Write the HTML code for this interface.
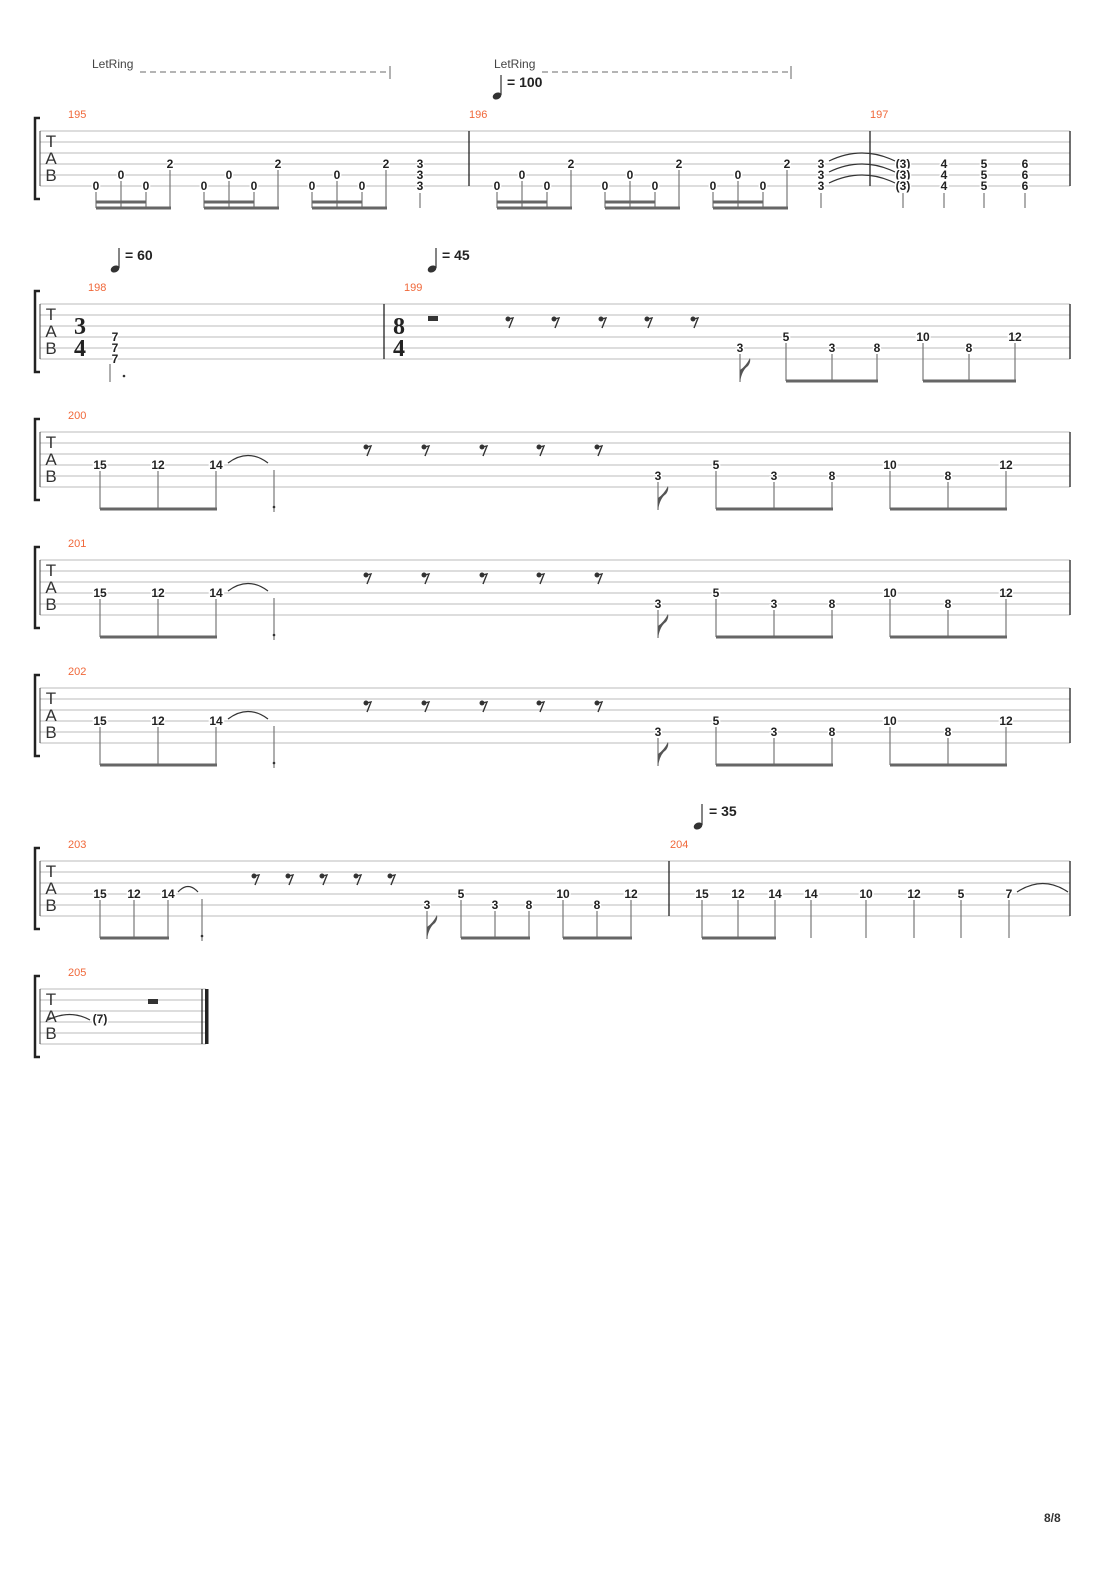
<!DOCTYPE html>
<html><head><meta charset="utf-8"><style>
html,body{margin:0;padding:0;background:#fff}
svg{display:block}
.n{font:bold 12px "Liberation Sans",sans-serif;fill:#222;text-anchor:middle;stroke:#fff;stroke-width:3px;paint-order:stroke}
.m{font:11px "Liberation Sans",sans-serif;fill:#f0683a}
.tab{font:17px "Liberation Sans",sans-serif;fill:#333;text-anchor:middle}
.ts{font:bold 24px "Liberation Serif",serif;fill:#222;text-anchor:middle}
.lr{font:12px "Liberation Sans",sans-serif;fill:#444}
.tp{font:bold 14px "Liberation Sans",sans-serif;fill:#222}
.sl{stroke:#bbb;stroke-width:1}
.st{stroke:#777;stroke-width:1.2}
.bm{stroke:#666;stroke-width:3}
.bar{stroke:#222;stroke-width:1.3}
</style></head><body>
<svg width="1110" height="1570" viewBox="0 0 1110 1570" xmlns="http://www.w3.org/2000/svg">
<defs>
<g id="none"></g>
</defs>

<!-- LetRing -->
<text class="lr" x="92" y="68">LetRing</text>
<line x1="140" y1="72" x2="388" y2="72" stroke="#888" stroke-width="1.2" stroke-dasharray="6,4"/>
<line x1="390" y1="66" x2="390" y2="79" stroke="#666"/>
<text class="lr" x="494" y="68">LetRing</text>
<line x1="542" y1="72" x2="789" y2="72" stroke="#888" stroke-width="1.2" stroke-dasharray="6,4"/>
<line x1="791" y1="66" x2="791" y2="79" stroke="#666"/>
<!-- tempo 100 -->
<ellipse cx="497" cy="96" rx="4.5" ry="3.3" transform="rotate(-25 497 96)" fill="#333"/>
<line x1="501" y1="95" x2="501" y2="75" stroke="#333" stroke-width="1.2"/>
<text class="tp" x="507" y="87">= 100</text>

<!-- ===== System 1 T=131 ===== -->
<g transform="translate(0,131)">
<path d="M40 -13 L35 -13 L35 68 L40 68" fill="none" stroke="#222" stroke-width="2.5"/>
<g class="sl"><line x1="40" y1="0" x2="1070" y2="0"/><line x1="40" y1="11" x2="1070" y2="11"/><line x1="40" y1="22" x2="1070" y2="22"/><line x1="40" y1="33" x2="1070" y2="33"/><line x1="40" y1="44" x2="1070" y2="44"/><line x1="40" y1="55" x2="1070" y2="55"/></g>
<line x1="40" y1="0" x2="40" y2="55" stroke="#444"/>
<text class="tab" x="51" y="16">T</text><text class="tab" x="51" y="33">A</text><text class="tab" x="51" y="50">B</text>
<text class="m" x="68" y="-13">195</text><text class="m" x="469" y="-13">196</text><text class="m" x="870" y="-13">197</text>
<line class="bar" x1="469" y1="0" x2="469" y2="55"/><line class="bar" x1="870" y1="0" x2="870" y2="55"/><line class="bar" x1="1070" y1="0" x2="1070" y2="55"/>
<g class="st">
<line x1="96" y1="61" x2="96" y2="77"/><line x1="121" y1="50" x2="121" y2="77"/><line x1="146" y1="61" x2="146" y2="77"/><line x1="170" y1="39" x2="170" y2="77"/>
<line x1="204" y1="61" x2="204" y2="77"/><line x1="229" y1="50" x2="229" y2="77"/><line x1="254" y1="61" x2="254" y2="77"/><line x1="278" y1="39" x2="278" y2="77"/>
<line x1="312" y1="61" x2="312" y2="77"/><line x1="337" y1="50" x2="337" y2="77"/><line x1="362" y1="61" x2="362" y2="77"/><line x1="386" y1="39" x2="386" y2="77"/>
<line x1="420" y1="62" x2="420" y2="77"/>
<line x1="497" y1="61" x2="497" y2="77"/><line x1="522" y1="50" x2="522" y2="77"/><line x1="547" y1="61" x2="547" y2="77"/><line x1="571" y1="39" x2="571" y2="77"/>
<line x1="605" y1="61" x2="605" y2="77"/><line x1="630" y1="50" x2="630" y2="77"/><line x1="655" y1="61" x2="655" y2="77"/><line x1="679" y1="39" x2="679" y2="77"/>
<line x1="713" y1="61" x2="713" y2="77"/><line x1="738" y1="50" x2="738" y2="77"/><line x1="763" y1="61" x2="763" y2="77"/><line x1="787" y1="39" x2="787" y2="77"/>
<line x1="821" y1="62" x2="821" y2="77"/><line x1="903" y1="62" x2="903" y2="77"/><line x1="944" y1="62" x2="944" y2="77"/><line x1="984" y1="62" x2="984" y2="77"/><line x1="1025" y1="62" x2="1025" y2="77"/>
</g>
<g class="bm">
<line x1="96" y1="77" x2="171" y2="77"/><line x1="96" y1="71" x2="146" y2="71"/>
<line x1="204" y1="77" x2="279" y2="77"/><line x1="204" y1="71" x2="254" y2="71"/>
<line x1="312" y1="77" x2="387" y2="77"/><line x1="312" y1="71" x2="362" y2="71"/>
<line x1="497" y1="77" x2="572" y2="77"/><line x1="497" y1="71" x2="547" y2="71"/>
<line x1="605" y1="77" x2="680" y2="77"/><line x1="605" y1="71" x2="655" y2="71"/>
<line x1="713" y1="77" x2="788" y2="77"/><line x1="713" y1="71" x2="763" y2="71"/>
</g>
<g fill="none" stroke="#333" stroke-width="1.2">
<path d="M829 30 Q862 14 895 30"/><path d="M829 41 Q862 25 895 41"/><path d="M829 52 Q862 36 895 52"/>
</g>
<text class="n" x="96" y="59">0</text><text class="n" x="121" y="48">0</text><text class="n" x="146" y="59">0</text><text class="n" x="170" y="37">2</text>
<text class="n" x="204" y="59">0</text><text class="n" x="229" y="48">0</text><text class="n" x="254" y="59">0</text><text class="n" x="278" y="37">2</text>
<text class="n" x="312" y="59">0</text><text class="n" x="337" y="48">0</text><text class="n" x="362" y="59">0</text><text class="n" x="386" y="37">2</text>
<text class="n" x="420" y="37">3</text><text class="n" x="420" y="48">3</text><text class="n" x="420" y="59">3</text>
<text class="n" x="497" y="59">0</text><text class="n" x="522" y="48">0</text><text class="n" x="547" y="59">0</text><text class="n" x="571" y="37">2</text>
<text class="n" x="605" y="59">0</text><text class="n" x="630" y="48">0</text><text class="n" x="655" y="59">0</text><text class="n" x="679" y="37">2</text>
<text class="n" x="713" y="59">0</text><text class="n" x="738" y="48">0</text><text class="n" x="763" y="59">0</text><text class="n" x="787" y="37">2</text>
<text class="n" x="821" y="37">3</text><text class="n" x="821" y="48">3</text><text class="n" x="821" y="59">3</text>
<text class="n" x="903" y="37">(3)</text><text class="n" x="903" y="48">(3)</text><text class="n" x="903" y="59">(3)</text>
<text class="n" x="944" y="37">4</text><text class="n" x="944" y="48">4</text><text class="n" x="944" y="59">4</text>
<text class="n" x="984" y="37">5</text><text class="n" x="984" y="48">5</text><text class="n" x="984" y="59">5</text>
<text class="n" x="1025" y="37">6</text><text class="n" x="1025" y="48">6</text><text class="n" x="1025" y="59">6</text>
</g>

<!-- ===== System 2 T=304 ===== -->
<g transform="translate(0,304)">
<path d="M40 -13 L35 -13 L35 68 L40 68" fill="none" stroke="#222" stroke-width="2.5"/>
<g class="sl"><line x1="40" y1="0" x2="1070" y2="0"/><line x1="40" y1="11" x2="1070" y2="11"/><line x1="40" y1="22" x2="1070" y2="22"/><line x1="40" y1="33" x2="1070" y2="33"/><line x1="40" y1="44" x2="1070" y2="44"/><line x1="40" y1="55" x2="1070" y2="55"/></g>
<line x1="40" y1="0" x2="40" y2="55" stroke="#444"/>
<text class="tab" x="51" y="16">T</text><text class="tab" x="51" y="33">A</text><text class="tab" x="51" y="50">B</text>
<text class="m" x="88" y="-13">198</text><text class="m" x="404" y="-13">199</text>
<text class="ts" x="80" y="30">3</text><text class="ts" x="80" y="52">4</text>
<text class="ts" x="399" y="30">8</text><text class="ts" x="399" y="52">4</text>
<line class="bar" x1="384" y1="0" x2="384" y2="55"/><line class="bar" x1="1070" y1="0" x2="1070" y2="55"/>
<g class="st"><line x1="110" y1="60" x2="110" y2="78"/></g>
<circle cx="124" cy="72" r="1.3" fill="#333"/>
<text class="n" x="115" y="37">7</text><text class="n" x="115" y="48">7</text><text class="n" x="115" y="59">7</text>
<rect x="428" y="12" width="10" height="5" fill="#333"/>
<g fill="#333" stroke="#333" stroke-width="1.4">
<circle cx="508" cy="15" r="1.8"/><path d="M508 15 L513 14 L509 24" fill="none"/>
<circle cx="554" cy="15" r="1.8"/><path d="M554 15 L559 14 L555 24" fill="none"/>
<circle cx="601" cy="15" r="1.8"/><path d="M601 15 L606 14 L602 24" fill="none"/>
<circle cx="647" cy="15" r="1.8"/><path d="M647 15 L652 14 L648 24" fill="none"/>
<circle cx="693" cy="15" r="1.8"/><path d="M693 15 L698 14 L694 24" fill="none"/>
</g>
<g class="st">
<line x1="740" y1="50" x2="740" y2="78"/>
<line x1="786" y1="39" x2="786" y2="77"/><line x1="832" y1="50" x2="832" y2="77"/><line x1="877" y1="50" x2="877" y2="77"/>
<line x1="923" y1="39" x2="923" y2="77"/><line x1="969" y1="50" x2="969" y2="77"/><line x1="1015" y1="39" x2="1015" y2="77"/>
</g>
<path d="M740 78 Q742 66 748 62 Q751 58 750 54 Q746 62 740 66" fill="#555"/>
<g class="bm"><line x1="786" y1="77" x2="878" y2="77"/><line x1="923" y1="77" x2="1016" y2="77"/></g>
<text class="n" x="740" y="48">3</text><text class="n" x="786" y="37">5</text><text class="n" x="832" y="48">3</text><text class="n" x="877" y="48">8</text>
<text class="n" x="923" y="37">10</text><text class="n" x="969" y="48">8</text><text class="n" x="1015" y="37">12</text>
</g>
<!-- tempos sys2 -->
<ellipse cx="115" cy="269" rx="4.5" ry="3.3" transform="rotate(-25 115 269)" fill="#333"/>
<line x1="119" y1="268" x2="119" y2="248" stroke="#333" stroke-width="1.2"/>
<text class="tp" x="125" y="260">= 60</text>
<ellipse cx="432" cy="269" rx="4.5" ry="3.3" transform="rotate(-25 432 269)" fill="#333"/>
<line x1="436" y1="268" x2="436" y2="248" stroke="#333" stroke-width="1.2"/>
<text class="tp" x="442" y="260">= 45</text>

<!-- ===== Systems 3-5 ===== -->
<g transform="translate(0,432)">
<path d="M40 -13 L35 -13 L35 68 L40 68" fill="none" stroke="#222" stroke-width="2.5"/>
<g class="sl"><line x1="40" y1="0" x2="1070" y2="0"/><line x1="40" y1="11" x2="1070" y2="11"/><line x1="40" y1="22" x2="1070" y2="22"/><line x1="40" y1="33" x2="1070" y2="33"/><line x1="40" y1="44" x2="1070" y2="44"/><line x1="40" y1="55" x2="1070" y2="55"/></g>
<line x1="40" y1="0" x2="40" y2="55" stroke="#444"/>
<text class="tab" x="51" y="16">T</text><text class="tab" x="51" y="33">A</text><text class="tab" x="51" y="50">B</text>
<text class="m" x="68" y="-13">200</text>
<line class="bar" x1="1070" y1="0" x2="1070" y2="55"/>
<path d="M228 31 Q248 16 268 31" fill="none" stroke="#333" stroke-width="1.2"/>
<g class="st"><line x1="100" y1="39" x2="100" y2="77"/><line x1="158" y1="39" x2="158" y2="77"/><line x1="216" y1="39" x2="216" y2="77"/><line x1="274" y1="38" x2="274" y2="80"/>
<line x1="658" y1="50" x2="658" y2="78"/>
<line x1="716" y1="39" x2="716" y2="77"/><line x1="774" y1="50" x2="774" y2="77"/><line x1="832" y1="50" x2="832" y2="77"/>
<line x1="890" y1="39" x2="890" y2="77"/><line x1="948" y1="50" x2="948" y2="77"/><line x1="1006" y1="39" x2="1006" y2="77"/></g>
<circle cx="274" cy="75" r="1.3" fill="#333"/>
<path d="M658 78 Q660 66 666 62 Q669 58 668 54 Q664 62 658 66" fill="#555"/>
<g class="bm"><line x1="100" y1="77" x2="217" y2="77"/><line x1="716" y1="77" x2="833" y2="77"/><line x1="890" y1="77" x2="1007" y2="77"/></g>
<g fill="#333" stroke="#333" stroke-width="1.4">
<circle cx="366" cy="15" r="1.8"/><path d="M366 15 L371 14 L367 24" fill="none"/>
<circle cx="424" cy="15" r="1.8"/><path d="M424 15 L429 14 L425 24" fill="none"/>
<circle cx="482" cy="15" r="1.8"/><path d="M482 15 L487 14 L483 24" fill="none"/>
<circle cx="539" cy="15" r="1.8"/><path d="M539 15 L544 14 L540 24" fill="none"/>
<circle cx="597" cy="15" r="1.8"/><path d="M597 15 L602 14 L598 24" fill="none"/>
</g>
<text class="n" x="100" y="37">15</text><text class="n" x="158" y="37">12</text><text class="n" x="216" y="37">14</text>
<text class="n" x="658" y="48">3</text><text class="n" x="716" y="37">5</text><text class="n" x="774" y="48">3</text><text class="n" x="832" y="48">8</text>
<text class="n" x="890" y="37">10</text><text class="n" x="948" y="48">8</text><text class="n" x="1006" y="37">12</text>
</g>
<g transform="translate(0,560)">
<path d="M40 -13 L35 -13 L35 68 L40 68" fill="none" stroke="#222" stroke-width="2.5"/>
<g class="sl"><line x1="40" y1="0" x2="1070" y2="0"/><line x1="40" y1="11" x2="1070" y2="11"/><line x1="40" y1="22" x2="1070" y2="22"/><line x1="40" y1="33" x2="1070" y2="33"/><line x1="40" y1="44" x2="1070" y2="44"/><line x1="40" y1="55" x2="1070" y2="55"/></g>
<line x1="40" y1="0" x2="40" y2="55" stroke="#444"/>
<text class="tab" x="51" y="16">T</text><text class="tab" x="51" y="33">A</text><text class="tab" x="51" y="50">B</text>
<text class="m" x="68" y="-13">201</text>
<line class="bar" x1="1070" y1="0" x2="1070" y2="55"/>
<path d="M228 31 Q248 16 268 31" fill="none" stroke="#333" stroke-width="1.2"/>
<g class="st"><line x1="100" y1="39" x2="100" y2="77"/><line x1="158" y1="39" x2="158" y2="77"/><line x1="216" y1="39" x2="216" y2="77"/><line x1="274" y1="38" x2="274" y2="80"/>
<line x1="658" y1="50" x2="658" y2="78"/>
<line x1="716" y1="39" x2="716" y2="77"/><line x1="774" y1="50" x2="774" y2="77"/><line x1="832" y1="50" x2="832" y2="77"/>
<line x1="890" y1="39" x2="890" y2="77"/><line x1="948" y1="50" x2="948" y2="77"/><line x1="1006" y1="39" x2="1006" y2="77"/></g>
<circle cx="274" cy="75" r="1.3" fill="#333"/>
<path d="M658 78 Q660 66 666 62 Q669 58 668 54 Q664 62 658 66" fill="#555"/>
<g class="bm"><line x1="100" y1="77" x2="217" y2="77"/><line x1="716" y1="77" x2="833" y2="77"/><line x1="890" y1="77" x2="1007" y2="77"/></g>
<g fill="#333" stroke="#333" stroke-width="1.4">
<circle cx="366" cy="15" r="1.8"/><path d="M366 15 L371 14 L367 24" fill="none"/>
<circle cx="424" cy="15" r="1.8"/><path d="M424 15 L429 14 L425 24" fill="none"/>
<circle cx="482" cy="15" r="1.8"/><path d="M482 15 L487 14 L483 24" fill="none"/>
<circle cx="539" cy="15" r="1.8"/><path d="M539 15 L544 14 L540 24" fill="none"/>
<circle cx="597" cy="15" r="1.8"/><path d="M597 15 L602 14 L598 24" fill="none"/>
</g>
<text class="n" x="100" y="37">15</text><text class="n" x="158" y="37">12</text><text class="n" x="216" y="37">14</text>
<text class="n" x="658" y="48">3</text><text class="n" x="716" y="37">5</text><text class="n" x="774" y="48">3</text><text class="n" x="832" y="48">8</text>
<text class="n" x="890" y="37">10</text><text class="n" x="948" y="48">8</text><text class="n" x="1006" y="37">12</text>
</g>
<g transform="translate(0,688)">
<path d="M40 -13 L35 -13 L35 68 L40 68" fill="none" stroke="#222" stroke-width="2.5"/>
<g class="sl"><line x1="40" y1="0" x2="1070" y2="0"/><line x1="40" y1="11" x2="1070" y2="11"/><line x1="40" y1="22" x2="1070" y2="22"/><line x1="40" y1="33" x2="1070" y2="33"/><line x1="40" y1="44" x2="1070" y2="44"/><line x1="40" y1="55" x2="1070" y2="55"/></g>
<line x1="40" y1="0" x2="40" y2="55" stroke="#444"/>
<text class="tab" x="51" y="16">T</text><text class="tab" x="51" y="33">A</text><text class="tab" x="51" y="50">B</text>
<text class="m" x="68" y="-13">202</text>
<line class="bar" x1="1070" y1="0" x2="1070" y2="55"/>
<path d="M228 31 Q248 16 268 31" fill="none" stroke="#333" stroke-width="1.2"/>
<g class="st"><line x1="100" y1="39" x2="100" y2="77"/><line x1="158" y1="39" x2="158" y2="77"/><line x1="216" y1="39" x2="216" y2="77"/><line x1="274" y1="38" x2="274" y2="80"/>
<line x1="658" y1="50" x2="658" y2="78"/>
<line x1="716" y1="39" x2="716" y2="77"/><line x1="774" y1="50" x2="774" y2="77"/><line x1="832" y1="50" x2="832" y2="77"/>
<line x1="890" y1="39" x2="890" y2="77"/><line x1="948" y1="50" x2="948" y2="77"/><line x1="1006" y1="39" x2="1006" y2="77"/></g>
<circle cx="274" cy="75" r="1.3" fill="#333"/>
<path d="M658 78 Q660 66 666 62 Q669 58 668 54 Q664 62 658 66" fill="#555"/>
<g class="bm"><line x1="100" y1="77" x2="217" y2="77"/><line x1="716" y1="77" x2="833" y2="77"/><line x1="890" y1="77" x2="1007" y2="77"/></g>
<g fill="#333" stroke="#333" stroke-width="1.4">
<circle cx="366" cy="15" r="1.8"/><path d="M366 15 L371 14 L367 24" fill="none"/>
<circle cx="424" cy="15" r="1.8"/><path d="M424 15 L429 14 L425 24" fill="none"/>
<circle cx="482" cy="15" r="1.8"/><path d="M482 15 L487 14 L483 24" fill="none"/>
<circle cx="539" cy="15" r="1.8"/><path d="M539 15 L544 14 L540 24" fill="none"/>
<circle cx="597" cy="15" r="1.8"/><path d="M597 15 L602 14 L598 24" fill="none"/>
</g>
<text class="n" x="100" y="37">15</text><text class="n" x="158" y="37">12</text><text class="n" x="216" y="37">14</text>
<text class="n" x="658" y="48">3</text><text class="n" x="716" y="37">5</text><text class="n" x="774" y="48">3</text><text class="n" x="832" y="48">8</text>
<text class="n" x="890" y="37">10</text><text class="n" x="948" y="48">8</text><text class="n" x="1006" y="37">12</text>
</g>

<!-- tempo 35 -->
<ellipse cx="698" cy="826" rx="4.5" ry="3.3" transform="rotate(-25 698 826)" fill="#333"/>
<line x1="702" y1="825" x2="702" y2="804" stroke="#333" stroke-width="1.2"/>
<text class="tp" x="709" y="816">= 35</text>

<!-- ===== System 6 T=861 ===== -->
<g transform="translate(0,861)">
<path d="M40 -13 L35 -13 L35 68 L40 68" fill="none" stroke="#222" stroke-width="2.5"/>
<g class="sl"><line x1="40" y1="0" x2="1070" y2="0"/><line x1="40" y1="11" x2="1070" y2="11"/><line x1="40" y1="22" x2="1070" y2="22"/><line x1="40" y1="33" x2="1070" y2="33"/><line x1="40" y1="44" x2="1070" y2="44"/><line x1="40" y1="55" x2="1070" y2="55"/></g>
<line x1="40" y1="0" x2="40" y2="55" stroke="#444"/>
<text class="tab" x="51" y="16">T</text><text class="tab" x="51" y="33">A</text><text class="tab" x="51" y="50">B</text>
<text class="m" x="68" y="-13">203</text><text class="m" x="670" y="-13">204</text>
<line class="bar" x1="669" y1="0" x2="669" y2="55"/><line class="bar" x1="1070" y1="0" x2="1070" y2="55"/>
<path d="M178 31 Q188 20 198 31" fill="none" stroke="#333" stroke-width="1.2"/>
<path d="M1017 31 Q1043 14 1068 31" fill="none" stroke="#333" stroke-width="1.2"/>
<g class="st"><line x1="100" y1="39" x2="100" y2="77"/><line x1="134" y1="39" x2="134" y2="77"/><line x1="168" y1="39" x2="168" y2="77"/><line x1="202" y1="38" x2="202" y2="80"/>
<line x1="427" y1="50" x2="427" y2="78"/>
<line x1="461" y1="39" x2="461" y2="77"/><line x1="495" y1="50" x2="495" y2="77"/><line x1="529" y1="50" x2="529" y2="77"/>
<line x1="563" y1="39" x2="563" y2="77"/><line x1="597" y1="50" x2="597" y2="77"/><line x1="631" y1="39" x2="631" y2="77"/>
<line x1="702" y1="39" x2="702" y2="77"/><line x1="738" y1="39" x2="738" y2="77"/><line x1="775" y1="39" x2="775" y2="77"/>
<line x1="811" y1="39" x2="811" y2="77"/><line x1="866" y1="39" x2="866" y2="77"/><line x1="914" y1="39" x2="914" y2="77"/><line x1="961" y1="39" x2="961" y2="77"/><line x1="1009" y1="39" x2="1009" y2="77"/></g>
<circle cx="202" cy="75" r="1.3" fill="#333"/>
<path d="M427 78 Q429 66 435 62 Q438 58 437 54 Q433 62 427 66" fill="#555"/>
<g class="bm"><line x1="100" y1="77" x2="169" y2="77"/><line x1="461" y1="77" x2="530" y2="77"/><line x1="563" y1="77" x2="632" y2="77"/><line x1="702" y1="77" x2="776" y2="77"/></g>
<g fill="#333" stroke="#333" stroke-width="1.4">
<circle cx="254" cy="15" r="1.8"/><path d="M254 15 L259 14 L255 24" fill="none"/>
<circle cx="288" cy="15" r="1.8"/><path d="M288 15 L293 14 L289 24" fill="none"/>
<circle cx="322" cy="15" r="1.8"/><path d="M322 15 L327 14 L323 24" fill="none"/>
<circle cx="356" cy="15" r="1.8"/><path d="M356 15 L361 14 L357 24" fill="none"/>
<circle cx="390" cy="15" r="1.8"/><path d="M390 15 L395 14 L391 24" fill="none"/>
</g>
<text class="n" x="100" y="37">15</text><text class="n" x="134" y="37">12</text><text class="n" x="168" y="37">14</text>
<text class="n" x="427" y="48">3</text><text class="n" x="461" y="37">5</text><text class="n" x="495" y="48">3</text><text class="n" x="529" y="48">8</text>
<text class="n" x="563" y="37">10</text><text class="n" x="597" y="48">8</text><text class="n" x="631" y="37">12</text>
<text class="n" x="702" y="37">15</text><text class="n" x="738" y="37">12</text><text class="n" x="775" y="37">14</text>
<text class="n" x="811" y="37">14</text><text class="n" x="866" y="37">10</text><text class="n" x="914" y="37">12</text><text class="n" x="961" y="37">5</text><text class="n" x="1009" y="37">7</text>
</g>

<!-- ===== System 7 T=989 ===== -->
<g transform="translate(0,989)">
<path d="M40 -13 L35 -13 L35 68 L40 68" fill="none" stroke="#222" stroke-width="2.5"/>
<g class="sl"><line x1="40" y1="0" x2="206" y2="0"/><line x1="40" y1="11" x2="206" y2="11"/><line x1="40" y1="22" x2="206" y2="22"/><line x1="40" y1="33" x2="206" y2="33"/><line x1="40" y1="44" x2="206" y2="44"/><line x1="40" y1="55" x2="206" y2="55"/></g>
<line x1="40" y1="0" x2="40" y2="55" stroke="#444"/>
<text class="tab" x="51" y="16">T</text><text class="tab" x="51" y="33">A</text><text class="tab" x="51" y="50">B</text>
<text class="m" x="68" y="-13">205</text>
<path d="M48 31 Q70 20 90 31" fill="none" stroke="#333" stroke-width="1.2"/>
<text class="n" x="100" y="34">(7)</text>
<rect x="148" y="10" width="10" height="5" fill="#333"/>
<line x1="202" y1="0" x2="202" y2="55" stroke="#222" stroke-width="1.2"/>
<rect x="205" y="0" width="3.5" height="55" fill="#222"/>
</g>

<text x="1044" y="1522" style="font:bold 12px 'Liberation Sans',sans-serif;fill:#333">8/8</text>
</svg>
</body></html>
